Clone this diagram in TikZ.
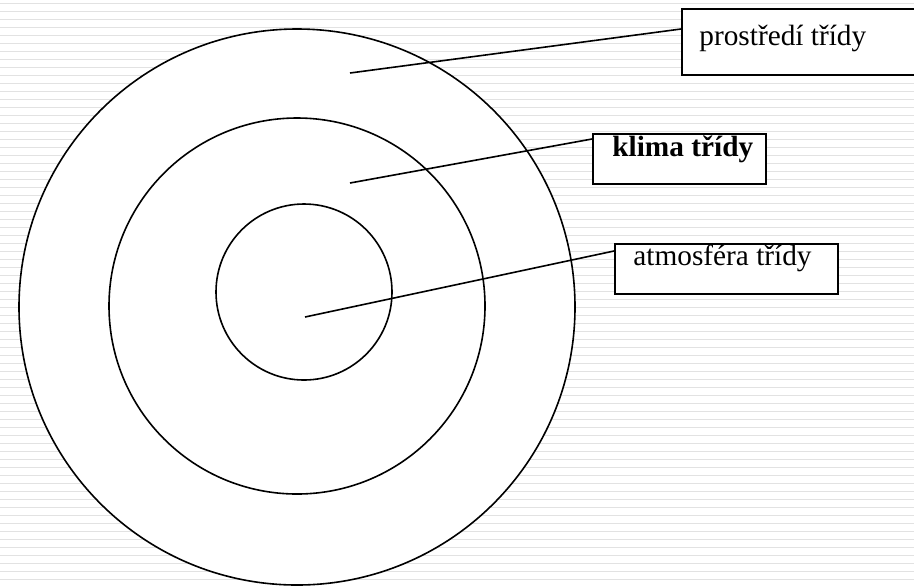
\documentclass[tikz,border=0pt]{standalone}
\usepackage{fontspec}
\setmainfont{Liberation Serif}
\definecolor{stripe}{HTML}{E2E2E2}
\begin{document}
\begin{tikzpicture}[x=0.5pt,y=-0.5pt,
  ring/.style={circle,draw=black,fill=white,line width=0.8pt,inner sep=0pt,outer sep=0pt},
  lbl/.style={draw=black,fill=white,line width=0.8pt,anchor=north west,inner sep=0pt},
  txt/.style={anchor=base west,inner sep=0pt,font=\fontsize{14.65pt}{17pt}\selectfont},
  conn/.style={line width=0.8pt,draw=black}]
\useasboundingbox (0,0) rectangle (914,585);
\fill[white] (0,0) rectangle (914,585);
\foreach \k in {0,...,72}{
  \draw[stripe,line width=0.6pt] (0,{3.3+8*\k}) -- (914,{3.3+8*\k});
}
\node[ring,minimum size=278pt] (outer) at (297,307) {};
\node[ring,minimum size=188pt] (middle) at (297,306) {};
\node[ring,minimum size=88pt] (inner) at (304,292) {};
% boxes
\node[lbl,minimum width=118pt,minimum height=33pt] (b1) at (681,8) {};
\node[txt] (t1) at (699,45) {prostředí třídy};
\node[lbl,minimum width=86.5pt,minimum height=25pt] (b2) at (592,133) {};
\node[txt,font=\fontsize{14.65pt}{17pt}\selectfont\bfseries] (t2) at (612,156) {klima třídy};
\node[lbl,minimum width=111.5pt,minimum height=25pt] (b3) at (614,243) {};
\node[txt] (t3) at (633,265) {atmosféra třídy};
% connectors
\coordinate (p1) at (350,73);
\coordinate (p2) at (350,183);
\coordinate (p3) at (305,317);
\draw[conn] (p1) -- ([yshift=-10.5pt]b1.north west);
\draw[conn] (p2) -- ([yshift=-3pt]b2.north west);
\draw[conn] (p3) -- ([yshift=-4pt]b3.north west);
\end{tikzpicture}
\end{document}
